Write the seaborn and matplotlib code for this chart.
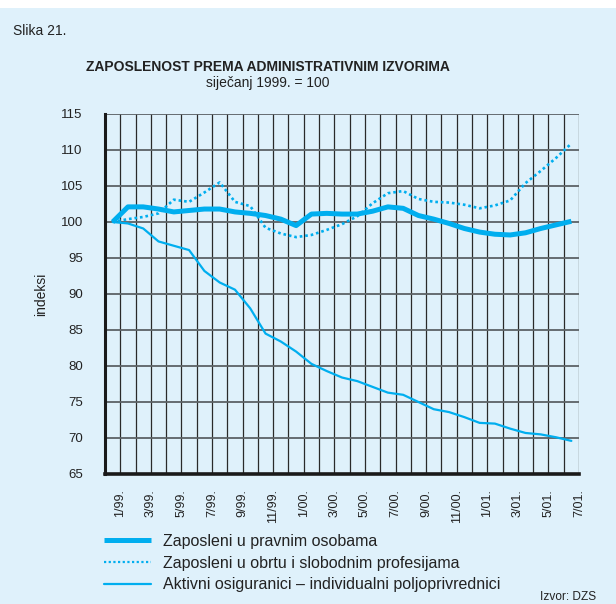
import matplotlib
matplotlib.use("Agg")
import matplotlib.pyplot as plt
import seaborn as sns
import pandas as pd
import numpy as np
from matplotlib.lines import Line2D
from matplotlib.patches import Rectangle

months = ["1/99.", "2/99.", "3/99.", "4/99.", "5/99.", "6/99.", "7/99.", "8/99.", "9/99.", "10/99.",
          "11/99.", "12/99.", "1/00.", "2/00.", "3/00.", "4/00.", "5/00.", "6/00.", "7/00.", "8/00.",
          "9/00.", "10/00.", "11/00.", "12/00.", "1/01.", "2/01.", "3/01.", "4/01.", "5/01.", "6/01.", "7/01."]

pravne = [100.0, 102.1, 102.1, 101.8, 101.4, 101.6, 101.8, 101.8, 101.4, 101.2,
          100.9, 100.4, 99.5, 101.1, 101.2, 101.1, 101.1, 101.5, 102.1, 101.9,
          100.9, 100.4, 99.8, 99.1, 98.6, 98.3, 98.2, 98.5, 99.1, 99.6, 100.1]

obrt = [100.0, 100.4, 100.7, 101.2, 103.1, 102.8, 104.1, 105.5, 102.8, 102.2,
        99.2, 98.4, 97.9, 98.2, 98.9, 99.7, 100.8, 102.6, 104.0, 104.3,
        103.2, 102.8, 102.7, 102.4, 101.9, 102.3, 103.0, 105.4, 107.1, 108.9, 110.9]

poljo = [100.0, 99.8, 99.1, 97.3, 96.7, 96.1, 93.2, 91.6, 90.6, 88.0,
         84.5, 83.4, 82.0, 80.3, 79.3, 78.4, 77.9, 77.1, 76.3, 76.0,
         75.0, 74.0, 73.6, 72.9, 72.1, 72.0, 71.3, 70.7, 70.5, 70.1, 69.6]

series_names = ["Zaposleni u pravnim osobama",
                "Zaposleni u obrtu i slobodnim profesijama",
                "Aktivni osiguranici – individualni poljoprivrednici"]

y_ticks = [65, 70, 75, 80, 85, 90, 95, 100, 105, 110, 115]

BG = "#dff1fb"
LINE = "#00aeef"
TXT = "#222222"

sns.set_theme(style="white")
plt.rcParams["font.family"] = ["Liberation Sans", "DejaVu Sans"]

fig = plt.figure(figsize=(6.16, 6.04), dpi=100)
fig.patch.set_facecolor("white")
fig.add_artist(Rectangle((0, 0), 1, 1 - 8 / 604, transform=fig.transFigure,
                         facecolor=BG, edgecolor="none", zorder=-10))

W, H = 616.0, 604.0
ax = fig.add_axes([105 / W, 1 - 474 / H, (579 - 105) / W, (474 - 114) / H])
ax.set_facecolor(BG)

x = np.arange(len(months)) + 0.5
df = pd.DataFrame({"x": x, "pravne": pravne, "obrt": obrt, "poljo": poljo})

sns.lineplot(data=df, x="x", y="pravne", ax=ax, color=LINE, linewidth=3.6,
             solid_capstyle="butt", solid_joinstyle="round", zorder=5)
sns.lineplot(data=df, x="x", y="obrt", ax=ax, color=LINE, linewidth=1.9,
             linestyle=(0, (1, 1.1)), zorder=5)
sns.lineplot(data=df, x="x", y="poljo", ax=ax, color=LINE, linewidth=1.6, zorder=5)

ax.set_xlim(0, len(months))
ax.set_ylim(65, 115)

xt = np.arange(0, len(months) + 1)
ax.set_xticks(xt)
labels = []
for k in xt:
    if k % 2 == 1:
        labels.append(months[k - 1])
    else:
        labels.append("")
ax.set_xticklabels(labels, rotation=90, fontsize=9, color=TXT, va="top")
ax.set_yticks(y_ticks)
ax.set_yticklabels([str(v) for v in y_ticks], fontsize=9.5, color=TXT)

ax.tick_params(axis="x", direction="out", length=6, width=1.0, color="#222222", pad=5)
ax.tick_params(axis="y", direction="out", length=7, width=1.4, color="#444444", pad=9)

for k in xt:
    ax.axvline(k, color="#2a2a2a", linewidth=0.9, zorder=1)
for v in y_ticks:
    ax.axhline(v, color="#5c6266", linewidth=1.3, zorder=1)

for s in ["top", "right"]:
    ax.spines[s].set_visible(False)
ax.spines["left"].set_color("#1a1a1a")
ax.spines["left"].set_linewidth(2.2)
ax.spines["bottom"].set_color("#1a1a1a")
ax.spines["bottom"].set_linewidth(2.6)
ax.spines["left"].set_zorder(3)
ax.spines["bottom"].set_zorder(3)

ax.set_xlabel("")
ax.set_ylabel("indeksi", fontsize=10, color=TXT, labelpad=9)

fig.text(13 / W, 1 - 31 / H, "Slika 21.", fontsize=10, color=TXT, va="center", ha="left")
fig.text(268 / W, 1 - 67 / H, "ZAPOSLENOST PREMA ADMINISTRATIVNIM IZVORIMA",
         fontsize=10, fontweight="bold", color=TXT, ha="center", va="center")
fig.text(268 / W, 1 - 83 / H, "siječanj 1999. = 100", fontsize=10, color=TXT,
         ha="center", va="center")
fig.text(540 / W, 1 - 597 / H, "Izvor: DZS", fontsize=8.6, color=TXT, ha="left", va="center")

handles = [Line2D([], [], color=LINE, linewidth=3.6, solid_capstyle="butt"),
           Line2D([], [], color=LINE, linewidth=1.6, linestyle=(0, (1, 1.1))),
           Line2D([], [], color=LINE, linewidth=1.6)]
fig.legend(handles, series_names, loc="upper left", bbox_to_anchor=(104 / W, 1 - 534 / H),
           frameon=False, fontsize=11.5, handlelength=2.95, handletextpad=0.75,
           labelspacing=0.42, borderpad=0, borderaxespad=0, labelcolor=TXT)

fig.savefig("out.png", dpi=100, facecolor=fig.get_facecolor())
